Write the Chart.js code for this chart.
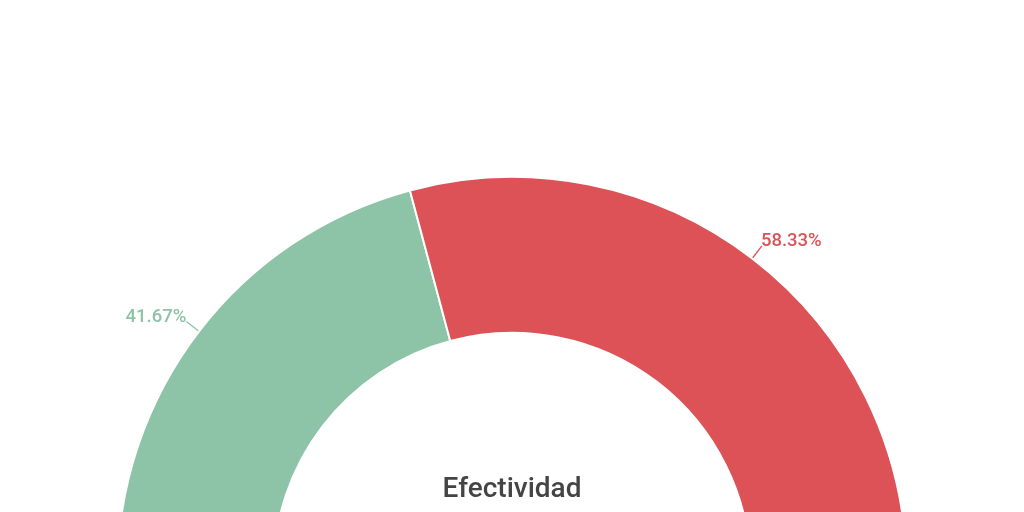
<!DOCTYPE html>
<html lang="es">
<head>
<meta charset="utf-8">
<title>Efectividad</title>
<script src="https://cdn.jsdelivr.net/npm/chart.js"></script>
<style>
    html, body { margin: 0; padding: 0; background: #fff; overflow: hidden; }
    #wrap { width: 1024px; height: 512px; }
</style>
</head>
<body>
<div id="wrap"><canvas id="efectividadChart" width="1024" height="512"></canvas></div>
<script>
    // --- Dados do gráfico ---
    const categorias = ['Efectivo', 'No efectivo'];
    const porcentajes = [41.67, 58.33];
    const colores = ['#8dc3a7', '#dc5256'];
    const tituloCentro = 'Efectividad';

    // Etiquetas fora do arco, com linha guia
    const outsideLabels = {
        id: 'outsideLabels',
        afterDatasetsDraw(chart) {
            const ctx = chart.ctx;
            const meta = chart.getDatasetMeta(0);
            ctx.save();
            meta.data.forEach((arc, i) => {
                const { x, y, startAngle, endAngle, outerRadius } = arc.getProps(['x', 'y', 'startAngle', 'endAngle', 'outerRadius'], true);
                const mid = (startAngle + endAngle) / 2;
                const r1 = outerRadius + 1;
                const r2 = outerRadius + 16;
                const x1 = x + Math.cos(mid) * r1, y1 = y + Math.sin(mid) * r1;
                const x2 = x + Math.cos(mid) * r2, y2 = y + Math.sin(mid) * r2;
                ctx.strokeStyle = colores[i];
                ctx.lineWidth = 1.3;
                ctx.beginPath();
                ctx.moveTo(x1, y1);
                ctx.lineTo(x2, y2);
                ctx.stroke();

                ctx.fillStyle = colores[i];
                ctx.font = '500 18.5px Roboto, sans-serif';
                ctx.textBaseline = 'alphabetic';
                ctx.textAlign = Math.cos(mid) >= 0 ? 'left' : 'right';
                ctx.fillText(porcentajes[i].toFixed(2) + '%', x2 + (Math.cos(mid) >= 0 ? -1 : 0), y2);
            });
            ctx.restore();
        }
    };

    // Texto no centro do meio anel
    const centerText = {
        id: 'centerText',
        afterDatasetsDraw(chart) {
            const arc = chart.getDatasetMeta(0).data[0];
            if (!arc) return;
            const ctx = chart.ctx;
            ctx.save();
            ctx.fillStyle = '#444444';
            ctx.font = '500 28px Roboto, sans-serif';
            ctx.textAlign = 'center';
            ctx.textBaseline = 'alphabetic';
            ctx.fillText(tituloCentro, arc.x, arc.y - 74.5);
            ctx.restore();
        }
    };

    new Chart(document.getElementById('efectividadChart').getContext('2d'), {
        type: 'doughnut',
        data: {
            labels: categorias,
            datasets: [{
                data: porcentajes,
                backgroundColor: colores,
                borderColor: '#ffffff',
                borderWidth: 2
            }]
        },
        options: {
            responsive: false,
            animation: false,
            rotation: -90,
            circumference: 180,
            radius: 394.5,
            cutout: '60.5%',
            layout: { padding: { top: 236.5, left: 0, right: 0, bottom: 0 } },
            plugins: {
                legend: { display: false },
                tooltip: { enabled: false }
            }
        },
        plugins: [outsideLabels, centerText]
    });
</script>
</body>
</html>
